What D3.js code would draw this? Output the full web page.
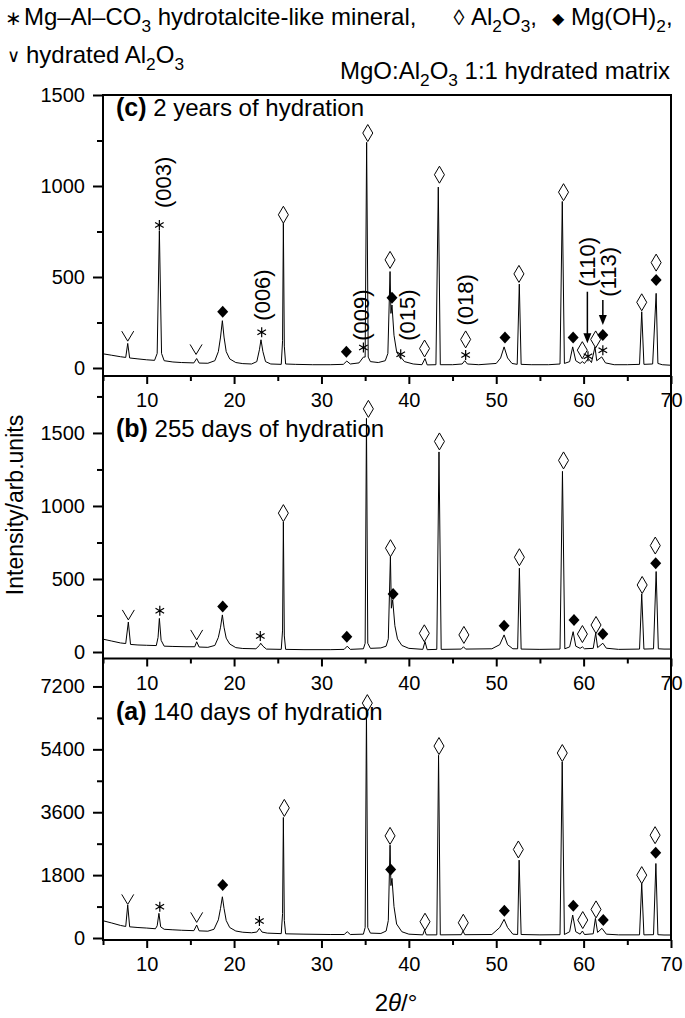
<!DOCTYPE html>
<html><head><meta charset="utf-8">
<script src="https://cdn.jsdelivr.net/npm/d3@7"></script>
<style>
body{margin:0;background:#fff}
svg{display:block}
text{font-family:"Liberation Sans",Arial,Helvetica,sans-serif;fill:#000}
</style>
</head><body>
<svg id="chart" width="685" height="1018"></svg>
<script>
// ---------------- data ----------------
const xMajorTicks = [10,20,30,40,50,60,70];
const xMinorTicks = [5,15,25,35,45,55,65];
const panelLetters = ["(c)","(b)","(a)"];
const panelTitles = ["2 years of hydration","255 days of hydration","140 days of hydration"];
const yMajorC = [0,500,1000,1500], yMinorC = [250,750,1250];
const yMajorB = [0,500,1000,1500], yMinorB = [250,750,1250,1750];
const yMajorA = [0,1800,3600,5400,7200], yMinorA = [900,2700,4500,6300];
const legendLine1a = "Mg–Al–CO_3 hydrotalcite-like mineral,";
const legendLine1b = "Al_2O_3,";
const legendLine1c = "Mg(OH)_2,";
const legendLine2 = "hydrated Al_2O_3";
const matrixTitle = "MgO:Al_2O_3 1:1 hydrated matrix";
const yAxisTitle = "Intensity/arb.units";

// XRD patterns [2theta, intensity]
const patternC = [[5,78],[6,70],[7,62],[7.6,58],[7.83,135],[8.05,55],[9,50],[10,45],[10.9,42],[11.2,80],[11.45,755],[11.7,80],[12.0,40],[13,33],[14,30],[15.4,28],[15.72,52],[16.0,27],[17,26],[17.8,40],[18.2,90],[18.45,170],[18.66,260],[18.85,170],[19.1,90],[19.5,50],[20.2,30],[21,24],[22,22],[22.6,35],[22.9,100],[23.08,155],[23.3,90],[23.6,35],[24.2,22],[25.4,20],[25.55,150],[25.64,795],[25.75,120],[25.9,22],[27,20],[29,18],[31,18],[32.5,20],[32.9,38],[33.3,22],[34.3,28],[34.8,60],[35.0,60],[35.17,1240],[35.35,60],[35.6,35],[36.5,30],[37.3,40],[37.6,80],[37.85,530],[37.95,300],[38.07,346],[38.3,180],[38.6,90],[39.0,55],[39.07,60],[39.5,35],[40.5,22],[41.5,18],[41.85,52],[42.1,17],[43.1,18],[43.37,994],[43.6,18],[45,18],[46.1,22],[46.4,40],[46.7,22],[48,18],[50,25],[50.5,55],[50.9,116],[51.3,55],[51.8,25],[52.4,20],[52.64,461],[52.85,20],[54,18],[56,18],[57.3,22],[57.56,915],[57.8,25],[58.4,35],[58.75,116],[59.1,40],[59.6,25],[59.85,35],[60.1,25],[60.54,52],[60.9,30],[61.3,116],[61.5,40],[62.07,61],[62.5,28],[63.5,18],[65,18],[66.4,20],[66.65,309],[66.9,20],[67.9,22],[68.3,410],[68.5,25],[69,18],[70,15]];
const patternB = [[5,88],[6,75],[7,62],[7.6,58],[7.9,205],[8.15,52],[9,48],[10,46],[11.1,44],[11.3,100],[11.45,230],[11.65,80],[12,40],[13,38],[14.5,36],[15.5,36],[15.72,70],[16,34],[17,32],[17.8,45],[18.2,100],[18.45,170],[18.66,254],[18.85,170],[19.1,95],[19.5,55],[20.2,30],[21,24],[22.5,22],[22.9,45],[23.05,60],[23.3,40],[23.7,20],[25.4,18],[25.55,150],[25.64,890],[25.75,110],[25.9,18],[28,16],[31,16],[32.6,18],[32.95,40],[33.3,18],[34.8,22],[35.0,60],[35.15,1600],[35.3,60],[35.6,25],[36.8,28],[37.4,40],[37.65,90],[37.89,654],[38.0,300],[38.15,357],[38.4,180],[38.7,90],[39.2,45],[40,25],[41.6,18],[41.85,71],[42.1,16],[43.2,18],[43.45,1370],[43.7,18],[46.0,20],[46.25,36],[46.5,20],[49.5,22],[50.4,50],[50.9,117],[51.3,50],[51.9,22],[52.45,22],[52.65,574],[52.85,20],[55,18],[57.3,20],[57.58,1237],[57.85,22],[58.4,35],[58.8,139],[59.1,40],[59.6,25],[59.86,35],[60.1,22],[61.1,25],[61.38,128],[61.6,30],[62.2,60],[62.6,26],[64,18],[66.4,20],[66.65,398],[66.9,20],[68.0,22],[68.3,551],[68.55,22],[69.2,20],[70,20]];
const patternA = [[5,494],[6,430],[7,360],[7.6,330],[7.83,943],[8.05,320],[9,300],[10,285],[11.0,265],[11.2,350],[11.4,706],[11.6,320],[12,250],[13,235],[14,222],[15.4,210],[15.72,371],[16,205],[17,195],[17.7,250],[18.2,520],[18.45,850],[18.66,1180],[18.85,850],[19.1,500],[19.5,300],[20.2,200],[21,165],[22,150],[22.6,170],[22.9,277],[23.2,170],[23.8,140],[25.4,125],[25.55,700],[25.64,3450],[25.75,500],[25.9,120],[28,110],[31,100],[32.6,100],[32.95,180],[33.3,100],[34.8,110],[35.0,300],[35.15,6500],[35.3,300],[35.6,140],[36.8,130],[37.4,200],[37.65,500],[37.85,2657],[37.95,1500],[38.07,1706],[38.3,900],[38.6,400],[39.2,180],[40,110],[41.6,90],[41.8,230],[42.0,90],[43.2,90],[43.4,5229],[43.6,90],[46.0,95],[46.2,200],[46.4,95],[49.5,100],[50.4,300],[50.9,534],[51.3,300],[51.9,110],[52.45,100],[52.62,2229],[52.85,100],[55,90],[57.3,95],[57.55,5038],[57.8,100],[58.4,180],[58.75,657],[59.1,180],[59.6,110],[59.86,200],[60.1,100],[61.1,120],[61.35,562],[61.6,160],[62.1,277],[62.6,110],[64,90],[66.4,90],[66.65,1562],[66.9,90],[68.0,95],[68.27,2133],[68.5,95],[69.2,86],[70,86]];

// markers [type, 2theta, intensity]: d = Al2O3 (open), f = Mg(OH)2 (filled), s = hydrotalcite (*), v = hydrated Al2O3
const markersC = [["v",7.83,175],["s",11.45,786],["v",15.65,102],["f",18.7,309],["s",23.16,196],["d",25.64,842],["f",32.85,89],["s",34.8,113],["d",35.3,1291],["d",37.85,594],["f",38.07,386],["s",39.07,76],["d",41.8,107],["d",43.5,1062],["d",46.5,157],["s",46.5,71],["f",51.0,168],["d",52.6,517],["d",57.7,966],["f",58.8,168],["d",59.85,98],["s",60.5,65],["d",61.38,157],["f",62.2,181],["s",62.2,98],["d",66.65,361],["f",68.3,484],["d",68.3,579]];
const markersB = [["v",7.9,254],["s",11.5,283],["v",15.72,117],["f",18.7,311],["s",23.0,110],["d",25.64,951],["f",32.9,105],["d",35.37,1665],["d",37.9,711],["f",38.2,398],["d",41.77,128],["d",43.5,1442],["d",46.3,117],["f",50.9,180],["d",52.65,649],["d",57.7,1312],["f",58.9,219],["d",59.86,123],["d",61.42,185],["f",62.2,123],["d",66.7,459],["d",68.2,729],["f",68.25,608]];
const markersA = [["v",7.83,1105],["s",11.5,894],["v",15.72,591],["f",18.7,1514],["s",22.9,486],["d",25.75,3724],["d",35.25,6723],["d",37.85,2923],["f",37.92,1963],["d",41.85,466],["d",43.45,5494],["d",46.23,437],["f",50.93,780],["d",52.53,2534],["d",57.56,5294],["f",58.82,923],["d",59.9,514],["d",61.42,819],["f",62.25,514],["d",66.65,1800],["d",68.18,2943],["f",68.25,2437]];

// hkl labels for panel (c): [label, 2theta, intensity at label centre]
const hklLabelsC = [["(003)",11.87,1020],["(006)",23.2,401],["(009)",34.63,291],["(015)",39.79,291],["(018)",46.54,374],["(110)",60.4,583],["(113)",62.8,528]];
// arrows [2theta, from intensity, to intensity]
const arrowsC = [[60.43,419,136],[62.2,374,236]];

// ---------------- layout ----------------
const FONT = '"Liberation Sans",Arial,Helvetica,sans-serif';
const svg = d3.select("#chart");
const x = d3.scaleLinear().domain([5,70]).range([103,671]);

const panels = [
  {letter:panelLetters[0], title:panelTitles[0], dom:[-44,1500], top:95, bottom:376, major:yMajorC, minor:yMinorC, data:patternC, markers:markersC, titleY:116},
  {letter:panelLetters[1], title:panelTitles[1], dom:[-44.5,1890], top:376, bottom:658.5, major:yMajorB, minor:yMinorB, data:patternB, markers:markersB, titleY:437},
  {letter:panelLetters[2], title:panelTitles[2], dom:[-57,8000], top:658.5, bottom:940, major:yMajorA, minor:yMinorA, data:patternA, markers:markersA, titleY:720}
];

function chem(textSel, str, fs){
  const parts = str.split(/(_\d)/);
  let sub = false;
  parts.forEach(p => {
    if(p === "") return;
    if(p[0] === "_"){
      textSel.append("tspan").attr("font-size", fs*0.72).attr("dy", fs*0.3).text(p.slice(1));
      sub = true;
    } else {
      const t = textSel.append("tspan").text(p);
      if(sub){ t.attr("dy", -fs*0.3); sub = false; }
    }
  });
}

const symbols = {
  d: "M0,-8.5L5,0L0,8.5L-5,0Z",
  f: "M0,-6L5.5,0L0,6L-5.5,0Z",
  s: "M0,-5L0,5M-4.3,-2.5L4.3,2.5M-4.3,2.5L4.3,-2.5",
  v: "M-6,-5L0,5L6,-5"
};
function drawMarker(g, type, px, py){
  const p = g.append("path").attr("d", symbols[type]).attr("transform", `translate(${px},${py})`);
  if(type === "d") p.attr("fill","none").attr("stroke","#000").attr("stroke-width",1);
  else if(type === "f") p.attr("fill","#000");
  else if(type === "s") p.attr("fill","none").attr("stroke","#000").attr("stroke-width",1.2);
  else p.attr("fill","none").attr("stroke","#000").attr("stroke-width",1);
}

panels.forEach((P,i) => {
  const y = d3.scaleLinear().domain(P.dom).range([P.bottom, P.top]);
  P.y = y;
  const g = svg.append("g");
  const clipId = "clip"+i;
  svg.append("clipPath").attr("id", clipId).append("rect")
    .attr("x",103).attr("y",P.top).attr("width",568).attr("height",P.bottom-P.top);
  const line = d3.line().x(d=>x(d[0])).y(d=>y(d[1]));
  g.append("path").datum(P.data).attr("d", line).attr("fill","none")
    .attr("stroke","#000").attr("stroke-width",1).attr("stroke-linejoin","round")
    .attr("clip-path", `url(#${clipId})`);
  // markers
  P.markers.forEach(m => drawMarker(g, m[0], x(m[1]), y(m[2])));
  // y axis
  const ya = svg.append("g").attr("transform","translate(103,0)")
    .call(d3.axisLeft(y).tickValues(P.major).tickSize(10).tickPadding(8).tickFormat(d3.format("d")));
  const ym = svg.append("g").attr("transform","translate(103,0)")
    .call(d3.axisLeft(y).tickValues(P.minor).tickSize(6).tickFormat(""));
  [ya, ym].forEach(a => { a.select(".domain").remove(); a.selectAll("line").attr("stroke","#000").attr("stroke-width",2); });
  ya.selectAll("text").attr("font-size",20).attr("font-family",FONT).attr("fill","#000");
  // x axis (bottom of the panel, ticks go outward)
  const xa = svg.append("g").attr("transform",`translate(0,${P.bottom})`)
    .call(d3.axisBottom(x).tickValues(xMajorTicks).tickSize(8).tickPadding(9).tickFormat(d3.format("d")));
  const xm = svg.append("g").attr("transform",`translate(0,${P.bottom})`)
    .call(d3.axisBottom(x).tickValues(xMinorTicks).tickSize(5).tickFormat(""));
  [xa, xm].forEach(a => { a.select(".domain").remove(); a.selectAll("line").attr("stroke","#000").attr("stroke-width",2); });
  xa.selectAll("text").attr("font-size",20).attr("font-family",FONT).attr("fill","#000");
  // panel title
  const t = svg.append("text").attr("x",116).attr("y",P.titleY).attr("font-size",24);
  t.append("tspan").attr("font-weight","bold").attr("font-size",25).text(P.letter);
  t.append("tspan").text(" "+P.title);
});

// hkl labels and arrows in panel (c)
const yc = panels[0].y;
hklLabelsC.forEach(h => {
  svg.append("text").attr("font-size",22).attr("text-anchor","middle").attr("dominant-baseline","central")
    .attr("transform",`translate(${x(h[1])},${yc(h[2])}) rotate(-90)`).text(h[0]);
});
arrowsC.forEach(a => {
  const ax = x(a[0]), y1 = yc(a[1]), y2 = yc(a[2]);
  svg.append("line").attr("x1",ax).attr("x2",ax).attr("y1",y1).attr("y2",y2-8).attr("stroke","#000").attr("stroke-width",1.5);
  svg.append("path").attr("d",`M${ax-4},${y2-10}L${ax+4},${y2-10}L${ax},${y2}Z`).attr("fill","#000");
});

// frame
const frame = svg.append("g").attr("stroke","#000").attr("stroke-width",2).attr("fill","none");
frame.append("line").attr("x1",103).attr("x2",103).attr("y1",94).attr("y2",941);
frame.append("line").attr("x1",671).attr("x2",671).attr("y1",94).attr("y2",941);
[95,376,658.5,940].forEach(yy => frame.append("line").attr("x1",102).attr("x2",672).attr("y1",yy).attr("y2",yy));

// axis titles
svg.append("text").attr("font-size",23).attr("text-anchor","middle")
  .attr("transform","translate(23,505) rotate(-90)").text(yAxisTitle);
const xt = svg.append("text").attr("font-size",24).attr("text-anchor","middle").attr("x",396).attr("y",1011);
xt.append("tspan").text("2");
xt.append("tspan").attr("font-style","italic").text("θ");
xt.append("tspan").text("/°");

// legend
svg.append("text").attr("x",13).attr("y",25).attr("font-size",20).attr("text-anchor","middle").text("∗");
chem(svg.append("text").attr("x",24).attr("y",25).attr("font-size",24), legendLine1a, 24);
svg.append("text").attr("x",459).attr("y",25).attr("font-size",22).attr("text-anchor","middle").text("◊");
chem(svg.append("text").attr("x",471).attr("y",25).attr("font-size",24), legendLine1b, 24);
svg.append("text").attr("x",558).attr("y",24).attr("font-size",16).attr("text-anchor","middle").attr("font-family","DejaVu Sans").text("◆");
chem(svg.append("text").attr("x",571).attr("y",25).attr("font-size",24), legendLine1c, 24);
svg.append("text").attr("x",13).attr("y",62).attr("font-size",18).attr("text-anchor","middle").attr("font-family","DejaVu Sans").text("∨");
chem(svg.append("text").attr("x",26).attr("y",63).attr("font-size",24), legendLine2, 24);
chem(svg.append("text").attr("x",340).attr("y",79).attr("font-size",24), matrixTitle, 24);
</script>
</body></html>
